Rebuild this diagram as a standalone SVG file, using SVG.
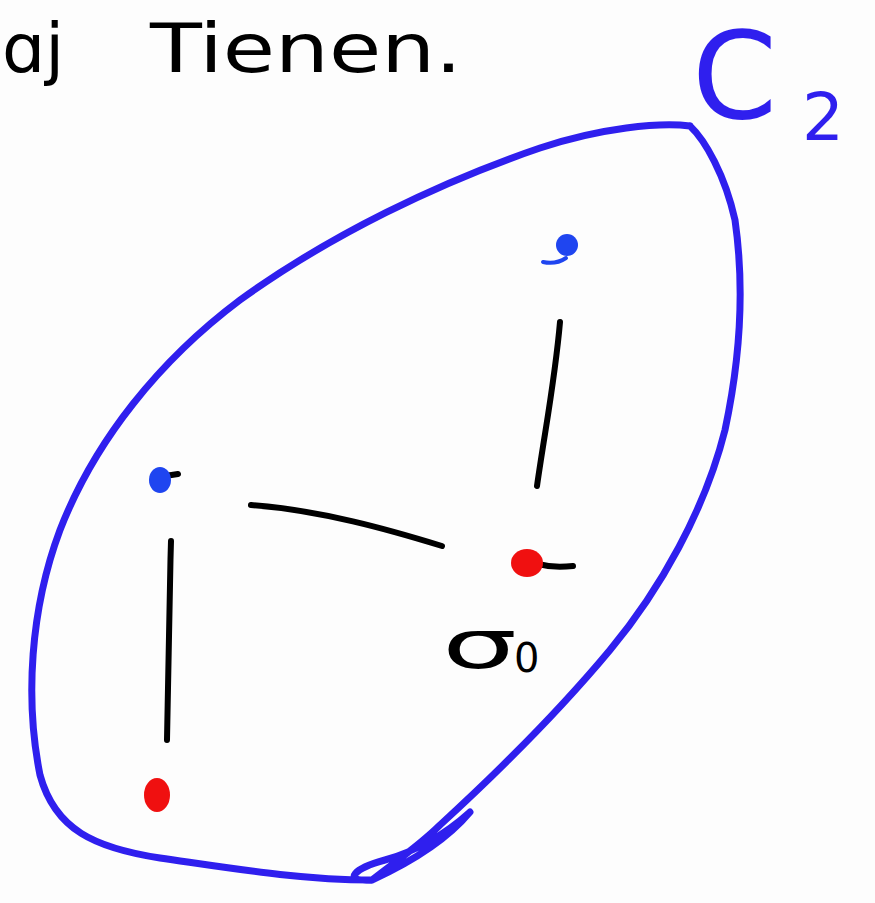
<svg xmlns="http://www.w3.org/2000/svg" width="875" height="903" viewBox="0 0 875 903">
<style>
.ink{fill:none;stroke:#000;stroke-width:6;stroke-linecap:round;stroke-linejoin:round}
.blueink{fill:none;stroke:#2f1fee;stroke-width:7;stroke-linecap:round;stroke-linejoin:round}
.bdot{fill:#1f45f0}
.rdot{fill:#f01010}
.hand{font-family:"DejaVu Sans","Liberation Sans",sans-serif;fill:#000}
.bluetext{font-family:"DejaVu Sans","Liberation Sans",sans-serif;fill:#2f1fee}
</style>
<rect width="875" height="903" fill="#fdfdfd"/>
<g id="title">
<text class="hand" x="2" y="72" font-size="68">ɑj</text>
<text class="hand" x="150" y="72" font-size="68" textLength="312" lengthAdjust="spacingAndGlyphs">Tienen.</text>
</g>
<g id="region-C2">
<path class="blueink" d="M690,126 C660,122 600,128 540,148 C440,182 330,235 240,300 C160,360 95,440 60,530 C30,610 25,700 40,775 C55,830 95,848 160,858 C230,868 300,880 372,880 C340,882 355,868 385,860 C420,850 450,830 470,812 C450,836 420,858 372,880 M690,126 C705,140 725,175 735,220 C745,290 740,360 725,430 C705,510 660,590 610,650 C560,710 500,770 440,825 C420,845 395,862 372,880"/>
<text class="bluetext" x="692" y="118" font-size="122">C</text>
<text class="bluetext" x="802" y="140" font-size="66">2</text>
</g>
<g id="connectors">
<path class="ink" d="M560,322 C555,380 545,430 537,486"/>
<path class="ink" d="M251,505 C320,510 390,530 442,546"/>
<path class="ink" d="M171,541 C169,610 168,680 167,740"/>
<path class="ink" d="M520,556 C535,566 555,568 573,566"/>
<path class="ink" d="M165,476 L178,474"/>
</g>
<g id="node-top">
<circle class="bdot" cx="567" cy="245" r="11"/>
<path d="M543,262 C552,264 560,262 566,258" stroke="#1f45f0" stroke-width="4" fill="none" stroke-linecap="round"/>
</g>
<g id="node-left">
<ellipse class="bdot" cx="160" cy="480" rx="11" ry="13"/>
</g>
<g id="node-sigma0">
<ellipse class="rdot" cx="527" cy="563" rx="16" ry="14"/>
<text class="hand" x="442" y="668" font-size="68" textLength="75" lengthAdjust="spacingAndGlyphs">σ</text>
<text class="hand" x="514" y="672" font-size="40">0</text>
</g>
<g id="node-bottom">
<ellipse class="rdot" cx="157" cy="795" rx="13" ry="17"/>
</g>
</svg>
